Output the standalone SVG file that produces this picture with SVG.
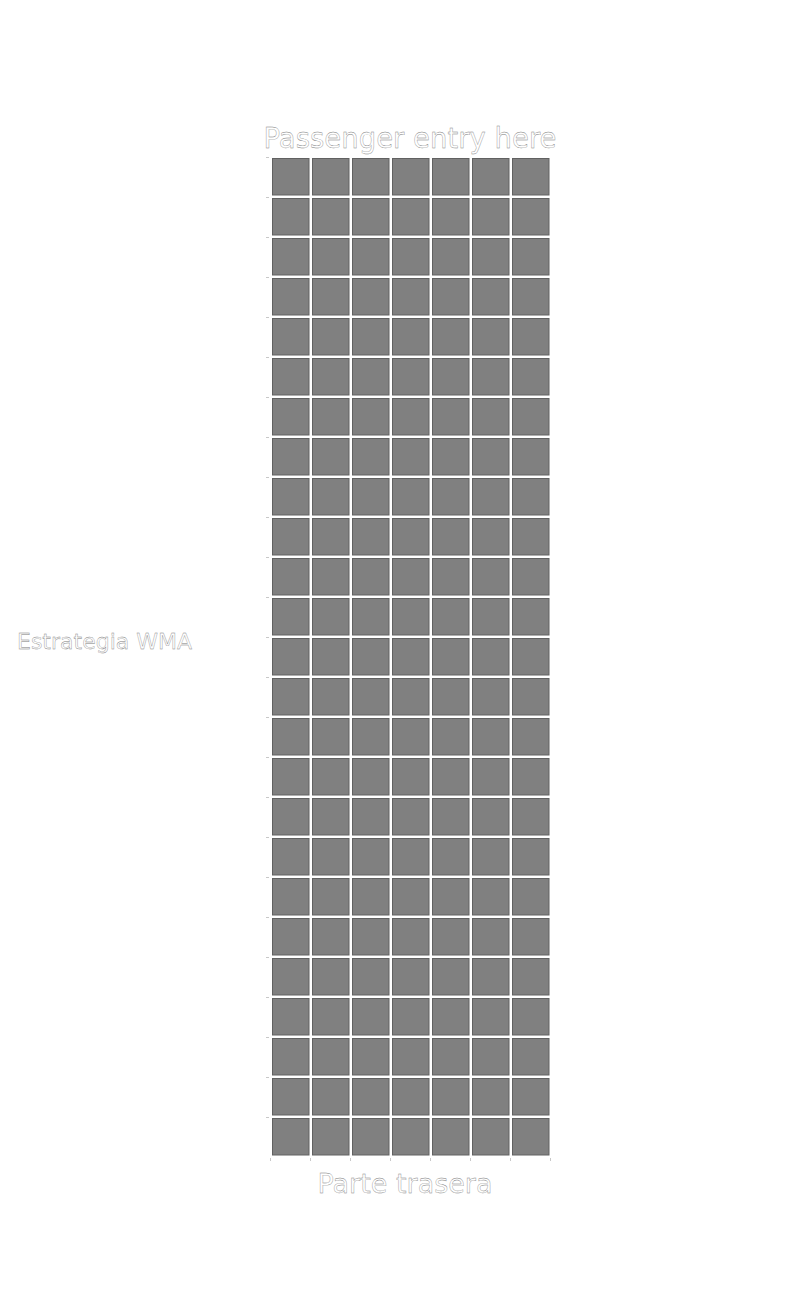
<svg xmlns="http://www.w3.org/2000/svg" width="800" height="1300" viewBox="0 0 800 1300">
<defs>
<style>
.bg{fill:#ffffff}
.seat{fill:#808080;stroke:#616161;stroke-width:1}
.lbl{font-family:"DejaVu Sans",sans-serif;fill:#ffffff;stroke:#7a7a7a;stroke-width:0.35}
.tick{stroke:#c8c8c8;stroke-width:1}
</style>
<pattern id="seats" x="272" y="158" width="40" height="40" patternUnits="userSpaceOnUse">
<rect class="seat" x="0.5" y="0.5" width="36.5" height="36.5"/>
</pattern>
</defs>
<rect class="bg" x="0" y="0" width="800" height="1300"/>
<g id="cabin">
<rect x="272" y="158" width="280" height="1000" fill="url(#seats)"/>
</g>
<g id="ticks">
<path class="tick" d="M266,157.5h3M266,197.5h3M266,237.5h3M266,277.5h3M266,317.5h3M266,357.5h3M266,397.5h3M266,437.5h3M266,477.5h3M266,517.5h3M266,557.5h3M266,597.5h3M266,637.5h3M266,677.5h3M266,717.5h3M266,757.5h3M266,797.5h3M266,837.5h3M266,877.5h3M266,917.5h3M266,957.5h3M266,997.5h3M266,1037.5h3M266,1077.5h3M266,1117.5h3"/>
<path class="tick" d="M270.5,1158v3M310.5,1158v3M350.5,1158v3M390.5,1158v3M430.5,1158v3M470.5,1158v3M510.5,1158v3M550.5,1158v3"/>
</g>
<g id="title"><text class="lbl" x="410" y="148" font-size="27.5" text-anchor="middle">Passenger entry here</text></g>
<g id="rear"><text class="lbl" x="405" y="1193" font-size="27" text-anchor="middle">Parte trasera</text></g>
<g id="strategy"><text class="lbl" x="17" y="649" font-size="22">Estrategia WMA</text></g>
</svg>
